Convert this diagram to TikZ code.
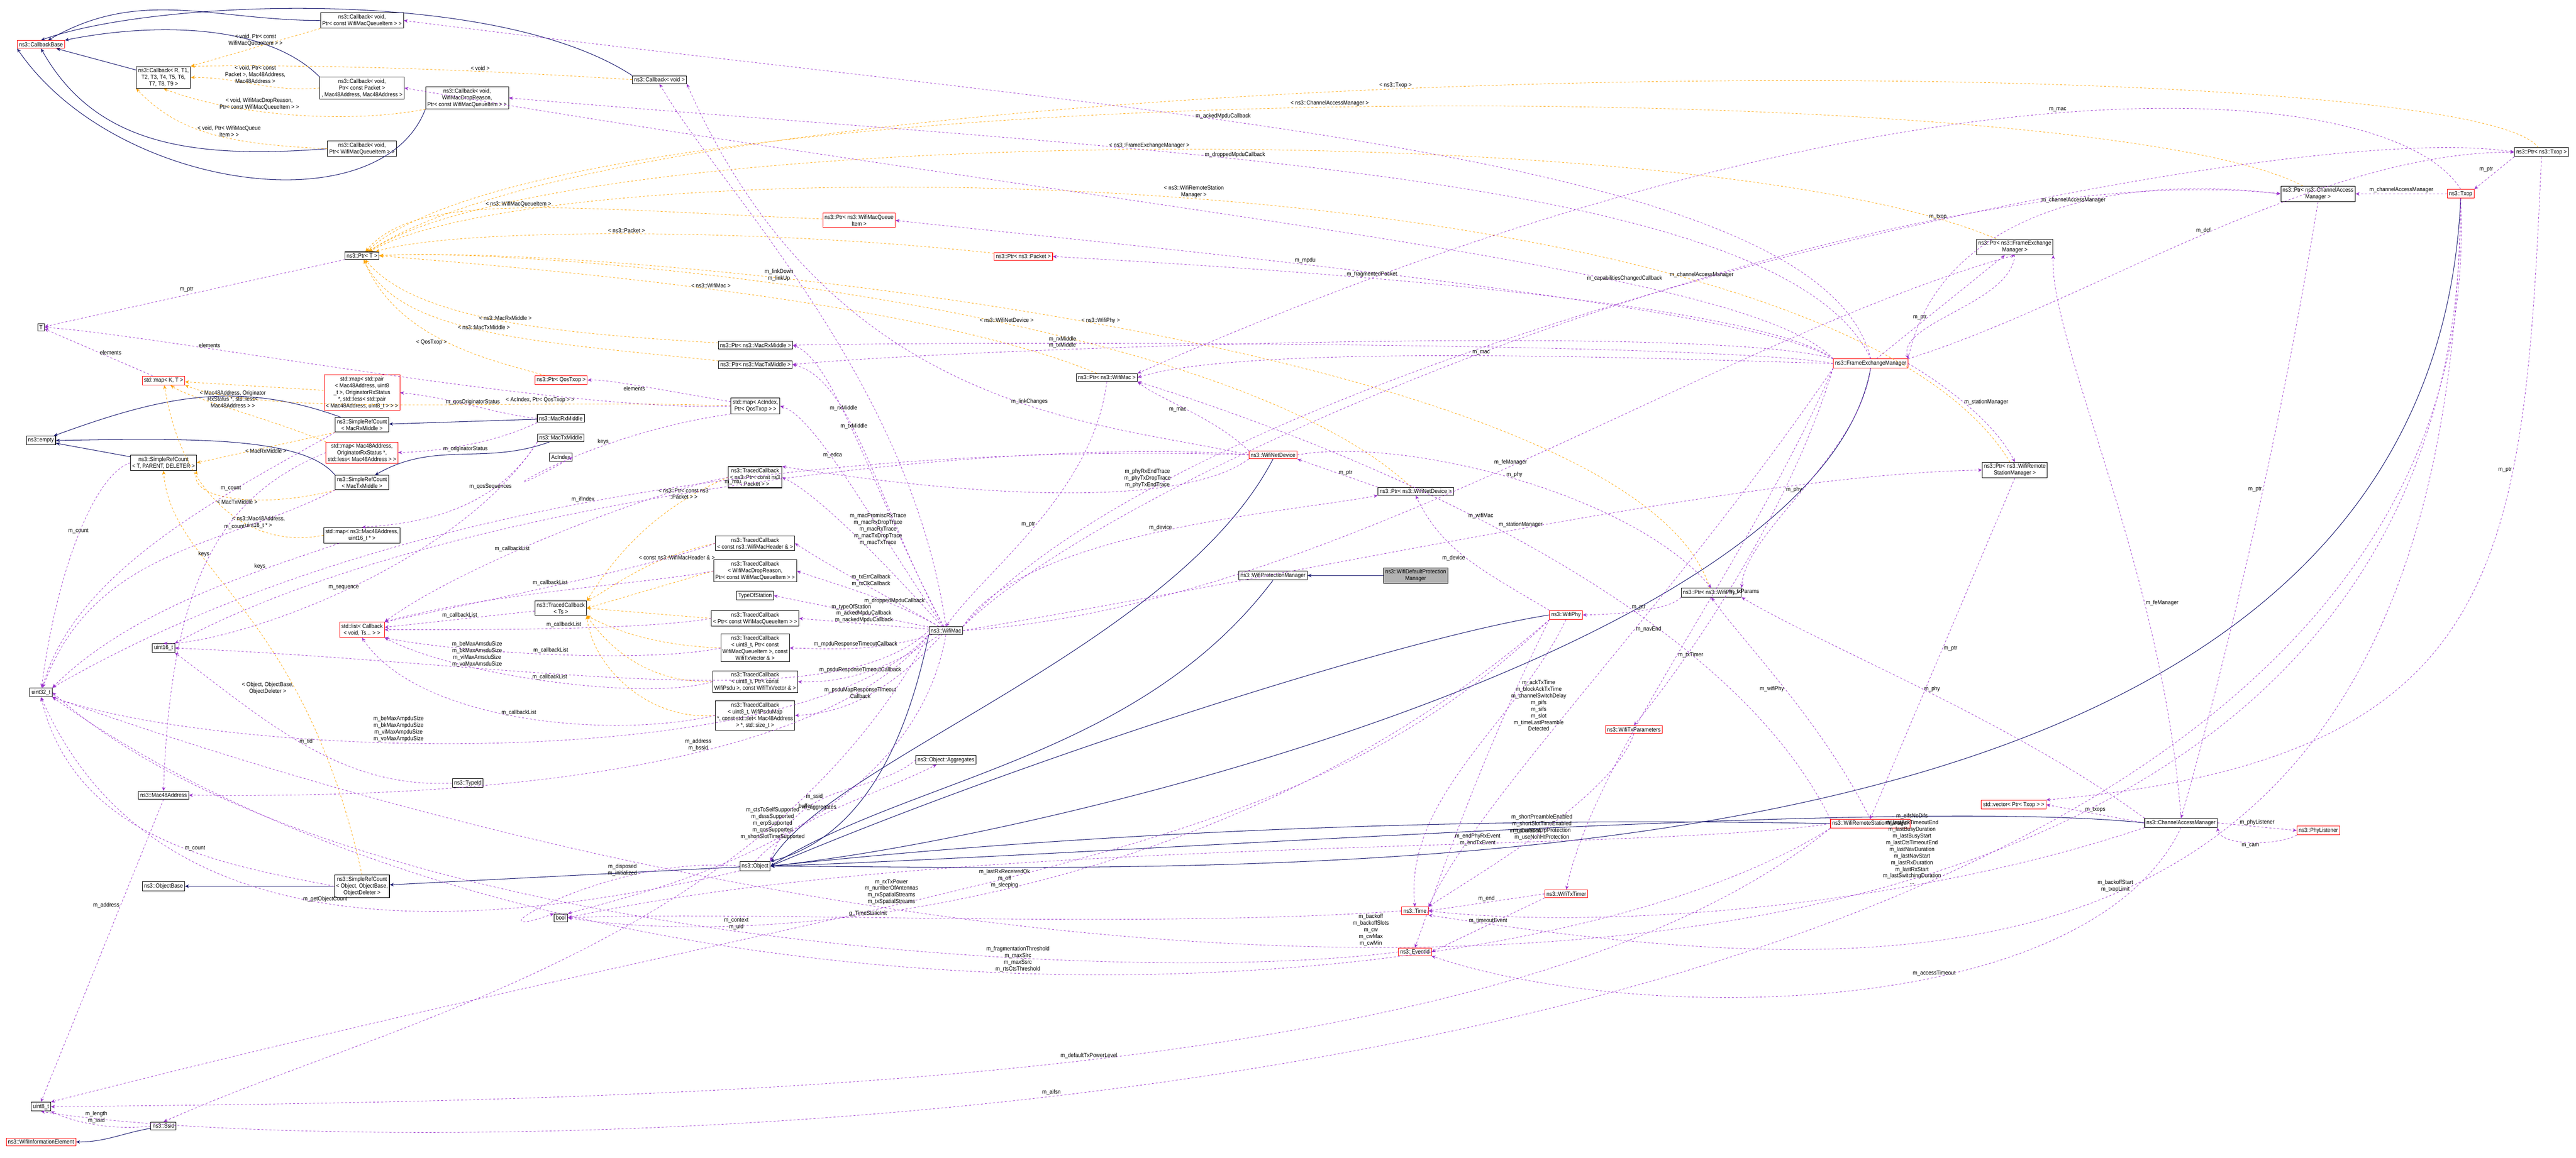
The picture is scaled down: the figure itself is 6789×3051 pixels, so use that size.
\documentclass[tikz,border=0pt]{standalone}
\usepackage{fontspec}
\setmainfont[FakeStretch=0.9]{Liberation Sans}
\usetikzlibrary{arrows.meta}
\definecolor{usecol}{HTML}{9A32CD}
\definecolor{tmplcol}{HTML}{FFA500}
\definecolor{inhcol}{HTML}{191970}
\tikzset{
  every node/.style={font=\fontsize{4.4}{5}\selectfont},
  cls/.style={draw=black, line width=0.4pt, inner sep=1.3pt, align=center, fill=white},
  rcls/.style={cls, draw=red},
  gcls/.style={cls, fill=black!30},
  use/.style={draw=usecol, dashed, dash pattern=on 1.5pt off 1.5pt, line width=0.3pt, -{Stealth[length=3pt,width=2.5pt]}},
  tmpl/.style={draw=tmplcol, dashed, dash pattern=on 1.5pt off 1.5pt, line width=0.3pt, -{Stealth[length=3pt,width=2.5pt]}},
  inh/.style={draw=inhcol, line width=0.4pt, -{Stealth[length=3pt,width=2.5pt]}},
  lab/.style={align=center, inner sep=0.8pt, fill=none},
}
\begin{document}
\begin{tikzpicture}[x=0.01cm,y=-0.01cm]
\useasboundingbox (0,0) rectangle (6789,3051);
\fill[white] (0,0) rectangle (6789,3051);
% ---------- nodes ----------
\node[rcls] (cbb) at (108,117) {ns3::CallbackBase};
\node[cls] (cbpcq) at (954,54) {ns3::Callback< void,\\ Ptr< const WifiMacQueueItem > >};
\node[cls] (cbr) at (431,204) {ns3::Callback< R, T1,\\ T2, T3, T4, T5, T6,\\ T7, T8, T9 >};
\node[cls] (cbpkt) at (954,232) {ns3::Callback< void,\\ Ptr< const Packet >\\ , Mac48Address, Mac48Address >};
\node[cls] (cbdrop) at (1231,258) {ns3::Callback< void,\\ WifiMacDropReason,\\ Ptr< const WifiMacQueueItem > >};
\node[cls] (cbpq) at (954,392) {ns3::Callback< void,\\ Ptr< WifiMacQueueItem > >};
\node[cls] (cbv) at (1738,210) {ns3::Callback< void >};
\node[cls] (ptrt) at (954,674) {ns3::Ptr< T >};
\node[cls] (t) at (108,863) {T};
\node[rcls] (mapkt) at (431,1003) {std::map< K, T >};
\node[rcls] (mappair) at (954,1035) {std::map< std::pair\\ < Mac48Address, uint8\\ \_t >, OriginatorRxStatus\\ *, std::less< std::pair\\ < Mac48Address, uint8\_t > > >};
\node[cls] (srcrx) at (954,1120) {ns3::SimpleRefCount\\ < MacRxMiddle >};
\node[cls] (empty) at (108,1161) {ns3::empty};
\node[cls] (srctpd) at (431,1220) {ns3::SimpleRefCount\\ < T, PARENT, DELETER >};
\node[rcls] (maporig) at (954,1193) {std::map< Mac48Address,\\ OriginatorRxStatus *,\\ std::less< Mac48Address > >};
\node[cls] (macrx) at (1478,1103) {ns3::MacRxMiddle};
\node[cls] (mactx) at (1478,1154) {ns3::MacTxMiddle};
\node[cls] (acindex) at (1478,1205) {AcIndex};
\node[rcls] (ptrqos) at (1479,1002) {ns3::Ptr< QosTxop >};
\node[cls] (srctx) at (954,1272) {ns3::SimpleRefCount\\ < MacTxMiddle >};
\node[cls] (mapu16) at (954,1411) {std::map< ns3::Mac48Address,\\ uint16\_t * >};
\node[rcls] (list) at (954,1660) {std::list< Callback\\ < void, Ts... > >};
\node[cls] (tcts) at (1478,1603) {ns3::TracedCallback\\ < Ts >};
\node[cls] (u16) at (431,1708) {uint16\_t};
\node[cls] (u32) at (108,1825) {uint32\_t};
\node[cls] (mac48) at (431,2096) {ns3::Mac48Address};
\node[cls] (typeid) at (1233,2064) {ns3::TypeId};
\node[cls] (objbase) at (431,2336) {ns3::ObjectBase};
\node[cls] (srcobj) at (954,2336) {ns3::SimpleRefCount\\ < Object, ObjectBase,\\ ObjectDeleter >};
\node[cls] (bool) at (1478,2419) {bool};
\node[cls] (u8) at (108,2917) {uint8\_t};
\node[cls] (ssid) at (431,2968) {ns3::Ssid};
\node[rcls] (wie) at (108,3010) {ns3::WifiInformationElement};
\node[cls] (tcpkt) at (1990,1258) {ns3::TracedCallback\\ < ns3::Ptr< const ns3\\ ::Packet > >};
\node[cls] (tchdr) at (1990,1432) {ns3::TracedCallback\\ < const ns3::WifiMacHeader \& >};
\node[cls] (tcdrop) at (1990,1505) {ns3::TracedCallback\\ < WifiMacDropReason,\\ Ptr< const WifiMacQueueItem > >};
\node[cls] (tos) at (1990,1570) {TypeOfStation};
\node[cls] (tcq) at (1990,1630) {ns3::TracedCallback\\ < Ptr< const WifiMacQueueItem > >};
\node[cls] (tcu8q) at (1990,1708) {ns3::TracedCallback\\ < uint8\_t, Ptr< const\\ WifiMacQueueItem >, const\\ WifiTxVector \& >};
\node[cls] (tcpsdu) at (1990,1797) {ns3::TracedCallback\\ < uint8\_t, Ptr< const\\ WifiPsdu >, const WifiTxVector \& >};
\node[cls] (tcmap) at (1990,1886) {ns3::TracedCallback\\ < uint8\_t, WifiPsduMap\\ *, const std::set< Mac48Address\\ > *, std::size\_t >};
\node[cls] (wifimac) at (2493,1662) {ns3::WifiMac};
\node[cls] (aggr) at (2493,2003) {ns3::Object::Aggregates};
\node[cls] (object) at (1990,2283) {ns3::Object};
\node[rcls] (ptrq) at (2264,581) {ns3::Ptr< ns3::WifiMacQueue\\ Item >};
\node[rcls] (ptrpkt) at (2697,676) {ns3::Ptr< ns3::Packet >};
\node[cls] (ptrrx) at (1991,910) {ns3::Ptr< ns3::MacRxMiddle >};
\node[cls] (ptrtx) at (1991,961) {ns3::Ptr< ns3::MacTxMiddle >};
\node[cls] (mapac) at (1991,1070) {std::map< AcIndex,\\ Ptr< QosTxop > >};
\node[cls] (ptrmac) at (2917,995) {ns3::Ptr< ns3::WifiMac >};
\node[rcls] (wnd) at (3355,1199) {ns3::WifiNetDevice};
\node[cls] (ptrwnd) at (3731,1295) {ns3::Ptr< ns3::WifiNetDevice >};
\node[cls] (wpm) at (3355,1517) {ns3::WifiProtectionManager};
\node[gcls] (wdpm) at (3731,1517) {ns3::WifiDefaultProtection\\ Manager};
\node[cls] (ptrphy) at (4510,1562) {ns3::Ptr< ns3::WifiPhy >};
\node[rcls] (phy) at (4127,1621) {ns3::WifiPhy};
\node[rcls] (fem) at (4930,958) {ns3::FrameExchangeManager};
\node[cls] (ptrfem) at (5310,651) {ns3::Ptr< ns3::FrameExchange\\ Manager >};
\node[cls] (ptrcam) at (6109,511) {ns3::Ptr< ns3::ChannelAccess\\ Manager >};
\node[rcls] (txop) at (6485,511) {ns3::Txop};
\node[cls] (ptrtxop) at (6698,401) {ns3::Ptr< ns3::Txop >};
\node[cls] (ptrwrsm) at (5310,1239) {ns3::Ptr< ns3::WifiRemote\\ StationManager >};
\node[rcls] (txparams) at (4306,1923) {ns3::WifiTxParameters};
\node[rcls] (wrsm) at (4929,2171) {ns3::WifiRemoteStationManager};
\node[rcls] (vec) at (5307,2121) {std::vector< Ptr< Txop > >};
\node[cls] (cam) at (5748,2169) {ns3::ChannelAccessManager};
\node[rcls] (phyl) at (6110,2189) {ns3::PhyListener};
\node[rcls] (txtimer) at (4128,2356) {ns3::WifiTxTimer};
\node[rcls] (time) at (3729,2401) {ns3::Time};
\node[rcls] (event) at (3729,2509) {ns3::EventId};
% ---------- inheritance ----------
\draw[inh] (cbpcq) to[out=180,in=30] (cbb);
\draw[inh] (cbpkt.north west) .. controls (700,60) and (400,60) .. (cbb.north east);
\draw[inh] (cbr) -- (cbb);
\draw[inh] (cbpq.west) .. controls (500,420) and (250,380) .. (cbb.south);
\draw[inh] (cbdrop.south west) .. controls (1000,600) and (300,500) .. (cbb.south west);
\draw[inh] (cbv.north west) .. controls (1300,-40) and (400,0) .. (cbb.north);
\draw[inh] (srcrx) to[out=160,in=20] (empty);
\draw[inh] (srctx.north west) .. controls (800,1150) and (500,1155) .. (empty.east);
\draw[inh] (srctpd) -- (empty);
\draw[inh] (macrx) -- (srcrx);
\draw[inh] (mactx) to[out=200,in=30] (srctx);
\draw[inh] (srcobj) -- (objbase);
\draw[inh] (object) -- (srcobj);
\draw[inh] (ssid) to[out=190,in=0] (wie);
\draw[inh] (wdpm) -- (wpm);
\draw[inh] (wifimac.south west) .. controls (2400,1900) and (2300,2200) .. (object.north east);
\draw[inh] (wpm.south) .. controls (3000,2000) and (2400,2050) .. (object.east);
\draw[inh] (wnd.south) .. controls (3100,1700) and (2200,2000) .. (object.north east);
\draw[inh] (phy.west) .. controls (3700,1680) and (2700,2000) .. (object.east);
\draw[inh] (fem.south) .. controls (4800,1700) and (2800,2200) .. (object.east);
\draw[inh] (wrsm.west) .. controls (3800,2150) and (2800,2200) .. (object.east);
\draw[inh] (cam.west) .. controls (5000,2100) and (3000,2250) .. (object.east);
\draw[inh] (txop.south) .. controls (6400,2400) and (3500,2290) .. (object.east);
% ---------- template instantiation ----------
\draw[tmpl] (cbpcq.south west) -- node[lab,above]{< void, Ptr< const\\ WifiMacQueueItem > >} (cbr.north east);
\draw[tmpl] (cbpkt.west) to[out=185,in=0] node[lab,above]{< void, Ptr< const\\ Packet >, Mac48Address,\\ Mac48Address >} (cbr.east);
\draw[tmpl] (cbdrop.south west) .. controls (900,330) and (600,300) .. node[lab,above,pos=0.6]{< void, WifiMacDropReason,\\ Ptr< const WifiMacQueueItem > >} (cbr.south);
\draw[tmpl] (cbpq.west) .. controls (600,380) and (470,350) .. node[lab,above,pos=0.4]{< void, Ptr< WifiMacQueue\\ Item > >} (cbr.south west);
\draw[tmpl] (cbv.west) .. controls (1200,180) and (800,170) .. node[lab,above,pos=0.3]{< void >} (cbr.north east);
\draw[tmpl] (ptrq) .. controls (1500,550) and (1100,500) .. node[lab,above]{< ns3::WifiMacQueueItem >} (ptrt);
\draw[tmpl] (ptrpkt) .. controls (2000,600) and (1200,600) .. node[lab,above]{< ns3::Packet >} (ptrt);
\draw[tmpl] (ptrrx) .. controls (1500,880) and (1100,850) .. node[lab,above]{< ns3::MacRxMiddle >} (ptrt);
\draw[tmpl] (ptrtx) .. controls (1400,900) and (1050,880) .. node[lab,above]{< ns3::MacTxMiddle >} (ptrt);
\draw[tmpl] (ptrqos) .. controls (1300,950) and (1050,900) .. node[lab,left]{< QosTxop >} (ptrt);
\draw[tmpl] (ptrmac) .. controls (2400,780) and (1300,700) .. node[lab,above]{< ns3::WifiMac >} (ptrt.east);
\draw[tmpl] (ptrwnd) .. controls (3200,800) and (1400,650) .. node[lab,above,pos=0.4]{< ns3::WifiNetDevice >} (ptrt.east);
\draw[tmpl] (ptrphy) .. controls (4300,900) and (1600,640) .. node[lab,above,pos=0.5]{< ns3::WifiPhy >} (ptrt.east);
\draw[tmpl] (ptrfem) .. controls (4500,300) and (1500,320) .. node[lab,above,pos=0.5]{< ns3::FrameExchangeManager >} (ptrt);
\draw[tmpl] (ptrwrsm) .. controls (4800,400) and (1500,370) .. node[lab,above,pos=0.5]{< ns3::WifiRemoteStation\\ Manager >} (ptrt);
\draw[tmpl] (ptrcam) .. controls (5500,190) and (1500,180) .. node[lab,above,pos=0.5]{< ns3::ChannelAccessManager >} (ptrt);
\draw[tmpl] (ptrtxop) .. controls (6500,120) and (1800,120) .. node[lab,above,pos=0.55]{< ns3::Txop >} (ptrt);
\draw[tmpl] (mappair) -- (mapkt);
\draw[tmpl] (maporig.north west) .. controls (700,1100) and (500,1050) .. node[lab,above,pos=0.5]{< Mac48Address, Originator\\ RxStatus *, std::less<\\ Mac48Address > >} (mapkt);
\draw[tmpl] (mapu16.west) .. controls (650,1450) and (480,1300) .. node[lab,above,pos=0.3]{< ns3::Mac48Address,\\ uint16\_t * >} (mapkt);
\draw[tmpl] (mapac.west) .. controls (1400,1050) and (700,1100) .. node[lab,above,pos=0.3]{< AcIndex, Ptr< QosTxop > >} (mapkt.south east);
\draw[tmpl] (srcrx.south west) -- node[lab,below]{< MacRxMiddle >} (srctpd.east);
\draw[tmpl] (srctx.south west) .. controls (700,1340) and (500,1320) .. node[lab,below]{< MacTxMiddle >} (srctpd.south east);
\draw[tmpl] (srcobj.north) .. controls (800,1600) and (450,1500) .. node[lab,left,pos=0.3]{< Object, ObjectBase,\\ ObjectDeleter >} (srctpd.south);
\draw[tmpl] (tcpkt.west) .. controls (1700,1350) and (1600,1500) .. node[lab,above,pos=0.2]{< ns3::Ptr< const ns3\\ ::Packet > >} (tcts.north east);
\draw[tmpl] (tchdr.west) .. controls (1700,1470) and (1600,1560) .. node[lab,below,pos=0.2]{< const ns3::WifiMacHeader \& >} (tcts.north east);
\draw[tmpl] (tcdrop.west) -- (tcts.east);
\draw[tmpl] (tcq.west) -- (tcts.east);
\draw[tmpl] (tcu8q.west) .. controls (1700,1700) and (1600,1650) .. (tcts.south east);
\draw[tmpl] (tcpsdu.west) .. controls (1700,1800) and (1600,1700) .. (tcts.south east);
\draw[tmpl] (tcmap.west) .. controls (1700,1900) and (1560,1750) .. (tcts.south east);
% ---------- usage ----------
\draw[use] (ptrt) -- node[lab,above left]{m\_ptr} (t);
\draw[use] (mapkt) -- node[lab,right]{elements} (t);
\draw[use] (mapac.west) .. controls (1500,1090) and (400,880) .. node[lab,above,pos=0.7]{elements} (t.east);
\draw[use] (mapac.south west) .. controls (1500,1150) and (1200,1380) .. node[lab,above,pos=0.3]{keys} (acindex.east);
\draw[use] (mapac) .. controls (1700,1020) and (1600,1000) .. node[lab,below]{elements} (ptrqos.east);
\draw[use] (srctpd.west) .. controls (250,1250) and (150,1500) .. node[lab,above]{m\_count} (u32);
\draw[use] (srcrx.south west) .. controls (600,1300) and (200,1500) .. node[lab,above,pos=0.3]{m\_count} (u32);
\draw[use] (srctx.south west) .. controls (600,1440) and (250,1440) .. node[lab,above,pos=0.3]{m\_count} (u32);
\draw[use] (srcobj.west) .. controls (600,2280) and (200,2220) .. node[lab,above,pos=0.4]{m\_count} (u32.south);
\draw[use] (macrx.west) .. controls (1300,1090) and (1200,1050) .. node[lab,above]{m\_qosOriginatorStatus} (mappair.east);
\draw[use] (macrx.south west) .. controls (1300,1170) and (1150,1190) .. node[lab,below]{m\_originatorStatus} (maporig.east);
\draw[use] (mactx.south west) .. controls (1300,1350) and (1100,1380) .. node[lab,above,pos=0.3]{m\_qosSequences} (mapu16.north);
\draw[use] (mactx.south west) .. controls (1200,1500) and (600,1700) .. node[lab,above,pos=0.5]{m\_sequence} (u16.north);
\draw[use] (mapu16) .. controls (700,1500) and (350,1600) .. node[lab,above,pos=0.3]{keys} (u32.north east);
\draw[use] (maporig.west) .. controls (600,1300) and (450,1500) .. node[lab,left,pos=0.5]{keys} (mac48.north);
\draw[use] (tcts) -- node[lab,above]{m\_callbackList} (list);
\draw[use] (tcpkt.west) .. controls (1700,1300) and (1200,1500) .. node[lab,above,pos=0.6]{m\_callbackList} (list.north east);
\draw[use] (tchdr.west) .. controls (1700,1500) and (1200,1600) .. node[lab,above,pos=0.5]{m\_callbackList} (list.north east);
\draw[use] (tcq.west) .. controls (1700,1660) and (1300,1660) .. node[lab,above,pos=0.5]{m\_callbackList} (list.east);
\draw[use] (tcu8q.west) .. controls (1700,1750) and (1200,1720) .. node[lab,above,pos=0.5]{m\_callbackList} (list.south east);
\draw[use] (tcpsdu.west) .. controls (1700,1850) and (1200,1780) .. node[lab,above,pos=0.5]{m\_callbackList} (list.south east);
\draw[use] (tcmap.west) .. controls (1600,1950) and (1100,1900) .. node[lab,above,pos=0.5]{m\_callbackList} (list.south);
\draw[use] (tcdrop.west) .. controls (1700,1540) and (1300,1560) .. (list.north east);
\draw[use] (typeid.west) .. controls (900,2080) and (700,1900) .. node[lab,above,pos=0.5]{m\_tid} (u16.south east);
\draw[use] (mac48.south) -- node[lab,left,pos=0.35]{m\_address} (u8.north);
\draw[use] (ssid.west) .. controls (300,2980) and (200,2960) .. node[lab,above]{m\_length\\ m\_ssid} (u8.south east);
\draw[use] (object.west) .. controls (1600,2250) and (1200,2500) .. node[lab,above,pos=0.3]{m\_disposed\\ m\_initialized} (bool.north west);
\draw[use] (object.north) .. controls (2100,2150) and (2300,2100) .. node[lab,left,pos=0.5]{m\_aggregates} (aggr);
\draw[use] (aggr.west) .. controls (2300,2100) and (2100,2050) .. node[lab,above,pos=0.7]{buffer} (object.north east);
\draw[use] (object.south west) .. controls (1200,2470) and (400,2500) .. node[lab,above,pos=0.5]{m\_getObjectCount} (u32.south);
% WifiMac
\draw[use] (wifimac) .. controls (2300,1300) and (2200,950) .. node[lab,above,pos=0.6]{m\_rxMiddle} (ptrrx.east);
\draw[use] (wifimac) .. controls (2320,1350) and (2250,1000) .. node[lab,above,pos=0.6]{m\_txMiddle} (ptrtx.east);
\draw[use] (wifimac) .. controls (2300,1380) and (2150,1100) .. node[lab,above,pos=0.6]{m\_edca} (mapac.east);
\draw[use] (wifimac) .. controls (2300,1450) and (2150,1300) .. node[lab,right,pos=0.5]{m\_macPromiscRxTrace\\ m\_macRxDropTrace\\ m\_macRxTrace\\ m\_macTxDropTrace\\ m\_macTxTrace} (tcpkt.east);
\draw[use] (wifimac) .. controls (2300,1550) and (2200,1500) .. node[lab,above,pos=0.4]{m\_txErrCallback\\ m\_txOkCallback} (tchdr.east);
\draw[use] (wifimac) .. controls (2350,1580) and (2200,1540) .. node[lab,above,pos=0.3]{m\_droppedMpduCallback} (tcdrop.east);
\draw[use] (wifimac) -- node[lab,above]{m\_typeOfStation} (tos.east);
\draw[use] (wifimac) -- node[lab,above]{m\_ackedMpduCallback\\ m\_nackedMpduCallback} (tcq.east);
\draw[use] (wifimac) .. controls (2300,1720) and (2200,1710) .. node[lab,above,pos=0.5]{m\_mpduResponseTimeoutCallback} (tcu8q.east);
\draw[use] (wifimac) .. controls (2320,1780) and (2200,1800) .. node[lab,above,pos=0.5]{m\_psduResponseTimeoutCallback} (tcpsdu.east);
\draw[use] (wifimac) .. controls (2320,1850) and (2200,1880) .. node[lab,above,pos=0.5]{m\_psduMapResponseTimeout\\ Callback} (tcmap.east);
\draw[use] (wifimac.north) .. controls (2400,1000) and (1900,500) .. node[lab,left,pos=0.55]{m\_linkDown\\ m\_linkUp} (cbv.south);
\draw[use] (wifimac.north east) .. controls (2700,1400) and (3400,1350) .. node[lab,above,pos=0.5]{m\_device} (ptrwnd.south west);
\draw[use] (wifimac.east) .. controls (3500,1600) and (4500,900) .. node[lab,above,pos=0.5]{m\_feManager} (ptrfem.south);
\draw[use] (wifimac.north east) .. controls (3000,1200) and (5000,400) .. node[lab,above,pos=0.6]{m\_channelAccessManager} (ptrcam.west);
\draw[use] (wifimac.north east) .. controls (3200,900) and (6000,300) .. node[lab,above,pos=0.6]{m\_txop} (ptrtxop.west);
\draw[use] (wifimac.east) .. controls (3500,1500) and (4600,1250) .. node[lab,above,pos=0.5]{m\_stationManager} (ptrwrsm.west);
\draw[use] (wifimac.south) .. controls (2400,2200) and (1700,2350) .. node[lab,above,pos=0.5]{m\_ctsToSelfSupported\\ m\_dsssSupported\\ m\_erpSupported\\ m\_qosSupported\\ m\_shortSlotTimeSupported} (bool.north east);
\draw[use] (wifimac.west) .. controls (2200,1900) and (1400,1750) .. node[lab,above,pos=0.7]{m\_beMaxAmsduSize\\ m\_bkMaxAmsduSize\\ m\_viMaxAmsduSize\\ m\_voMaxAmsduSize} (u16.east);
\draw[use] (wifimac.south west) .. controls (2100,2050) and (600,2000) .. node[lab,above,pos=0.6]{m\_beMaxAmpduSize\\ m\_bkMaxAmpduSize\\ m\_viMaxAmpduSize\\ m\_voMaxAmpduSize} (u32.south east);
\draw[use] (wifimac.south west) .. controls (2100,2100) and (900,2100) .. node[lab,above,pos=0.35]{m\_address\\ m\_bssid} (mac48.east);
\draw[use] (wifimac.south west) .. controls (2000,2500) and (1000,2700) .. node[lab,right,pos=0.2]{m\_ssid} (ssid.north);
\draw[use] (ptrmac.south) .. controls (2880,1300) and (2600,1500) .. node[lab,left,pos=0.5]{m\_ptr} (wifimac.north);
% WifiNetDevice
\draw[use] (wnd.north west) .. controls (3200,1100) and (3050,1050) .. node[lab,left,pos=0.5]{m\_mac} (ptrmac.south east);
\draw[use] (wnd.east) .. controls (3700,1150) and (4300,1300) .. node[lab,above,pos=0.5]{m\_phy} (ptrphy.north);
\draw[use] (wnd.west) .. controls (2700,1180) and (1200,1200) .. node[lab,above,pos=0.6]{m\_ifIndex} (u32.north east);
\draw[use] (wnd.west) .. controls (2700,1150) and (1200,1300) .. node[lab,above,pos=0.5]{m\_mtu} (u16.north east);
\draw[use] (wnd.west) .. controls (2900,1110) and (2200,1100) .. node[lab,above,pos=0.4]{m\_linkChanges} (cbv.south east);
\draw[use] (wnd.south west) .. controls (3100,1350) and (2500,1300) .. node[lab,above,pos=0.3]{m\_phyRxEndTrace\\ m\_phyTxDropTrace\\ m\_phyTxEndTrace} (tcpkt.north east);
\draw[use] (ptrwnd.north west) -- node[lab,right]{m\_ptr} (wnd.south east);
% FEM
\draw[use] (fem.west) .. controls (4500,950) and (3300,900) .. node[lab,above,pos=0.5]{m\_mac} (ptrmac.east);
\draw[use] (fem.west) .. controls (4500,900) and (2500,900) .. node[lab,above,pos=0.7]{m\_rxMiddle} (ptrrx.east);
\draw[use] (fem.north west) .. controls (4500,850) and (2500,920) .. node[lab,above,pos=0.7]{m\_txMiddle} (ptrtx.east);
\draw[use] (fem.north west) .. controls (4600,800) and (3000,650) .. node[lab,above,pos=0.6]{m\_mpdu} (ptrq.east);
\draw[use] (fem.north west) .. controls (4600,780) and (3200,700) .. node[lab,above,pos=0.6]{m\_fragmentedPacket} (ptrpkt.east);
\draw[use] (fem.north) .. controls (4800,400) and (3000,300) .. node[lab,above,pos=0.6]{m\_ackedMpduCallback} (cbpcq.east);
\draw[use] (fem.north) .. controls (4700,450) and (3000,400) .. node[lab,above,pos=0.6]{m\_droppedMpduCallback} (cbdrop.east);
\draw[use] (fem.north west) .. controls (4600,700) and (3000,560) .. node[lab,above,pos=0.3]{m\_capabilitiesChangedCallback} (cbpkt.east);
\draw[use] (fem.south) .. controls (4900,1200) and (4600,1400) .. node[lab,left,pos=0.5]{m\_phy} (ptrphy.north east);
\draw[use] (fem) -- node[lab,left,pos=0.4]{m\_ptr} (ptrfem);
\draw[use] (ptrfem.south) .. controls (5300,800) and (5000,850) .. (fem.north east);
\draw[use] (fem.north east) .. controls (5100,600) and (5500,450) .. node[lab,above,pos=0.6]{m\_channelAccessManager} (ptrcam.west);
\draw[use] (fem.north east) .. controls (5500,800) and (6100,400) .. node[lab,above,pos=0.5]{m\_dcf} (ptrtxop.west);
\draw[use] (fem.east) .. controls (5100,1000) and (5250,1100) .. node[lab,right,pos=0.5]{m\_stationManager} (ptrwrsm.north);
\draw[use] (fem.south west) .. controls (4700,1400) and (4400,1800) .. node[lab,right,pos=0.5]{m\_txParams} (txparams.north);
\draw[use] (fem.south west) .. controls (4600,1500) and (4200,2000) .. node[lab,right,pos=0.5]{m\_txTimer} (txtimer.north);
\draw[use] (fem.south west) .. controls (4400,1600) and (3900,2100) .. node[lab,right,pos=0.4]{m\_navEnd} (time.north east);
% Phy
\draw[use] (ptrphy.south west) .. controls (4400,1610) and (4250,1620) .. node[lab,above]{m\_ptr} (phy.east);
\draw[use] (phy.north west) .. controls (3900,1500) and (3800,1450) .. node[lab,left,pos=0.5]{m\_device} (ptrwnd.south);
\draw[use] (phy.south) .. controls (4000,1900) and (3700,2100) .. node[lab,right,pos=0.3]{m\_ackTxTime\\ m\_blockAckTxTime\\ m\_channelSwitchDelay\\ m\_pifs\\ m\_sifs\\ m\_slot\\ m\_timeLastPreamble\\ Detected} (time.north);
\draw[use] (phy.south west) .. controls (3900,2000) and (3800,2300) .. node[lab,right,pos=0.6]{m\_endPhyRxEvent\\ m\_endTxEvent} (event.north);
\draw[use] (phy.south west) .. controls (3400,2300) and (2500,2300) .. node[lab,above,pos=0.6]{m\_rxTxPower\\ m\_numberOfAntennas\\ m\_rxSpatialStreams\\ m\_txSpatialStreams} (u8.north east);
\draw[use] (phy.south west) .. controls (3200,2400) and (2000,2500) .. node[lab,above,pos=0.5]{m\_lastRxReceivedOk\\ m\_off\\ m\_sleeping} (bool.east);
\draw[use] (txtimer.west) -- node[lab,above]{m\_end} (time.east);
\draw[use] (txtimer.south west) -- node[lab,above]{m\_timeoutEvent} (event.east);
\draw[use] (txparams.south) .. controls (4250,2100) and (3900,2300) .. node[lab,left,pos=0.5]{m\_txDuration} (time.north east);
\draw[use] (event.west) .. controls (3000,2600) and (900,2500) .. node[lab,above,pos=0.5]{m\_context\\ m\_uid} (u32.east);
\draw[use] (time.west) .. controls (3000,2450) and (2000,2400) .. node[lab,above,pos=0.6]{g\_TimeStaticInit} (bool.east);
% WRSM
\draw[use] (wrsm.north) .. controls (4800,1900) and (4600,1700) .. node[lab,left,pos=0.5]{m\_wifiPhy} (ptrphy.south);
\draw[use] (wrsm.north west) .. controls (4500,1500) and (3300,1100) .. node[lab,above,pos=0.5]{m\_wifiMac} (ptrmac.south east);
\draw[use] (wrsm.west) .. controls (4300,2250) and (2500,2200) .. node[lab,above,pos=0.3]{m\_shortPreambleEnabled\\ m\_shortSlotTimeEnabled\\ m\_useNonErpProtection\\ m\_useNonHtProtection} (bool.east);
\draw[use] (wrsm.south west) .. controls (4000,2700) and (1500,2800) .. node[lab,above,pos=0.5]{m\_fragmentationThreshold\\ m\_maxSlrc\\ m\_maxSsrc\\ m\_rtsCtsThreshold} (u32.south east);
\draw[use] (wrsm.south west) .. controls (4000,2850) and (2000,2900) .. node[lab,above,pos=0.5]{m\_defaultTxPowerLevel} (u8.east);
\draw[use] (ptrwrsm.south) -- node[lab,right,pos=0.5]{m\_ptr} (wrsm.north);
% CAM
\draw[use] (cam.west) -- node[lab,above]{m\_txops} (vec.east);
\draw[use] (cam.east) -- node[lab,above]{m\_phyListener} (phyl.west);
\draw[use] (phyl.south west) .. controls (6000,2230) and (5850,2230) .. node[lab,below]{m\_cam} (cam.south east);
\draw[use] (cam.north west) .. controls (5300,1900) and (4800,1700) .. node[lab,right,pos=0.5]{m\_phy} (ptrphy.south east);
\draw[use] (cam.north) .. controls (5700,1500) and (5400,900) .. node[lab,right,pos=0.3]{m\_feManager} (ptrfem.south east);
\draw[use] (cam.south west) .. controls (5000,2400) and (4200,2450) .. node[lab,above,pos=0.3]{m\_eifsNoDifs\\ m\_lastAckTimeoutEnd\\ m\_lastBusyDuration\\ m\_lastBusyStart\\ m\_lastCtsTimeoutEnd\\ m\_lastNavDuration\\ m\_lastNavStart\\ m\_lastRxDuration\\ m\_lastRxStart\\ m\_lastSwitchingDuration\\ ...} (time.east);
\draw[use] (cam.south) .. controls (5500,2700) and (4300,2700) .. node[lab,above,pos=0.4]{m\_accessTimeout} (event.south east);
\draw[use] (ptrcam.south) .. controls (6000,1200) and (5850,1800) .. node[lab,left,pos=0.4]{m\_ptr} (cam.north);
% Txop
\draw[use] (txop.west) -- node[lab,above]{m\_channelAccessManager} (ptrcam.east);
\draw[use] (ptrtxop.south west) -- node[lab,above left]{m\_ptr} (txop.north east);
\draw[use] (txop.north) .. controls (6300,200) and (5000,100) .. node[lab,above,pos=0.5]{m\_mac} (ptrmac.north east);
\draw[use] (txop.south) .. controls (6450,2700) and (5000,2600) .. node[lab,above,pos=0.5]{m\_backoffStart\\ m\_txopLimit} (time.south east);
\draw[use] (txop.south) .. controls (6500,2900) and (3000,2850) .. node[lab,above,pos=0.6]{m\_backoff\\ m\_backoffSlots\\ m\_cw\\ m\_cwMax\\ m\_cwMin} (u32.south east);
\draw[use] (txop.south) .. controls (6600,3100) and (1000,3080) .. node[lab,above,pos=0.6]{m\_aifsn} (u8.south);
\draw[use] (ptrtxop.south) .. controls (6650,1500) and (6600,2000) .. node[lab,left,pos=0.3]{m\_ptr} (vec.north east);
\end{tikzpicture}
\end{document}
